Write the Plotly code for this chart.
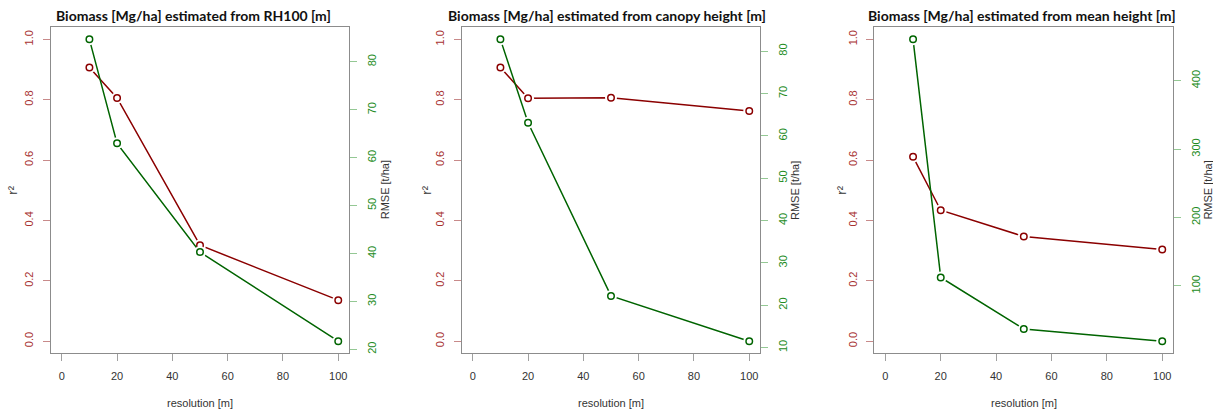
import plotly.graph_objects as go

# ---- data ----
resolution = [10, 20, 50, 100]

titles = [
    "Biomass [Mg/ha] estimated from RH100 [m]",
    "Biomass [Mg/ha] estimated from canopy height [m]",
    "Biomass [Mg/ha] estimated from mean height [m]",
]
r2_rh100 = [0.907, 0.806, 0.318, 0.136]
rmse_rh100 = [84.7, 63.0, 40.3, 21.7]
r2_canopy = [0.907, 0.805, 0.807, 0.763]
rmse_canopy = [82.8, 63.1, 22.2, 11.5]
r2_mean = [0.611, 0.434, 0.347, 0.304]
rmse_mean = [460.5, 112.2, 37.0, 19.0]
rmse_dticks = [10, 10, 100]

r2_sets = [r2_rh100, r2_canopy, r2_mean]
rmse_sets = [rmse_rh100, rmse_canopy, rmse_mean]

# ---- styling / layout ----
W, H = 1213, 411
RED = "#8b0000"
GREEN = "#006400"
RED_LBL = "#a83232"
GREEN_LBL = "#228b22"
RED_TICK = "#c88a8a"
GREEN_TICK = "#94c894"
BOX = "#8c8c8c"
TXT = "#333333"
SANS = "Liberation Sans, Arial, sans-serif"

box_px = [(50.7, 349.3), (461.7, 760.3), (874.3, 1173.3)]
title_cx = [193.3, 607.0, 1022.0]
r2_lbl_x = [11.7, 425.7, 840.7]
rmse_lbl_x = [385.0, 795.7, 1208.3]
top_px, bot_px = 27.3, 353.3
ydom = [1 - bot_px / H, 1 - top_px / H]

fig = go.Figure()
layout = dict(
    width=W, height=H,
    margin=dict(l=0, r=0, t=0, b=0),
    paper_bgcolor="white", plot_bgcolor="white",
    showlegend=False,
    font=dict(family=SANS, size=11, color=TXT),
)
annotations = []

for i in range(3):
    xa = f"x{i+1}" if i else "x"
    yl_n = 2 * i + 1
    yr_n = 2 * i + 2
    yl = f"y{yl_n}" if yl_n > 1 else "y"
    yr = f"y{yr_n}"
    r2 = r2_sets[i]
    rm = rmse_sets[i]
    lo, hi = min(rm), max(rm)
    pad = 0.04 * (hi - lo)

    # red r2 series
    fig.add_trace(go.Scatter(x=resolution, y=r2, xaxis=xa, yaxis=yl, mode="lines",
                             line=dict(color=RED, width=1.5), hoverinfo="skip"))
    # green RMSE series on right axis
    fig.add_trace(go.Scatter(x=resolution, y=rm, xaxis=xa, yaxis=yr, mode="lines",
                             line=dict(color=GREEN, width=1.5), hoverinfo="skip"))
    # gaps around points (type "b" look)
    fig.add_trace(go.Scatter(x=resolution, y=r2, xaxis=xa, yaxis=yl, mode="markers",
                             marker=dict(symbol="circle", size=12, color="white", line=dict(width=0)),
                             hoverinfo="skip"))
    fig.add_trace(go.Scatter(x=resolution, y=rm, xaxis=xa, yaxis=yr, mode="markers",
                             marker=dict(symbol="circle", size=12, color="white", line=dict(width=0)),
                             hoverinfo="skip"))
    fig.add_trace(go.Scatter(x=resolution, y=r2, xaxis=xa, yaxis=yl, mode="markers",
                             marker=dict(symbol="circle-open", size=6.5, color=RED, line=dict(width=1.5)),
                             hoverinfo="skip"))
    fig.add_trace(go.Scatter(x=resolution, y=rm, xaxis=xa, yaxis=yr, mode="markers",
                             marker=dict(symbol="circle-open", size=6.5, color=GREEN, line=dict(width=1.5)),
                             hoverinfo="skip"))

    x0, x1 = box_px[i]
    xkey = f"xaxis{i+1}" if i else "xaxis"
    layout[xkey] = dict(
        domain=[x0 / W, x1 / W], anchor=yl, range=[-4, 104],
        dtick=20, tick0=0, ticks="outside", ticklen=7, tickcolor="#a0a0a0",
        showline=True, linecolor=BOX, linewidth=1, mirror=True,
        showgrid=False, zeroline=False, ticklabelstandoff=5,
        tickfont=dict(family=SANS, size=11, color=TXT),
    )
    ylkey = f"yaxis{yl_n}" if yl_n > 1 else "yaxis"
    layout[ylkey] = dict(
        domain=ydom, anchor=xa, range=[-0.04, 1.04], dtick=0.2, tick0=0,
        tickformat=".1f", ticks="outside", ticklen=7, tickcolor=RED_TICK,
        tickangle=-90, showline=True, linecolor=BOX, linewidth=1, mirror=True,
        showgrid=False, zeroline=False, ticklabelstandoff=5,
        tickfont=dict(family=SANS, size=11, color=RED_LBL),
    )
    layout[f"yaxis{yr_n}"] = dict(
        domain=ydom, anchor=xa, overlaying=yl, side="right",
        range=[lo - pad, hi + pad], dtick=rmse_dticks[i], tick0=0,
        ticks="outside", ticklen=7, tickcolor=GREEN_TICK, tickangle=-90,
        showline=False, showgrid=False, zeroline=False, ticklabelstandoff=5,
        tickfont=dict(family=SANS, size=11, color=GREEN_LBL),
    )

    annotations.append(dict(text=f"<b>{titles[i]}</b>", x=title_cx[i] / W, y=1 - 16 / H,
                            xref="paper", yref="paper", showarrow=False,
                            xanchor="center", yanchor="middle",
                            font=dict(family="Lato, sans-serif", size=14, color="#111111")))
    annotations.append(dict(text="resolution [m]", x=(x0 + x1) / 2 / W, y=1 - 402.7 / H,
                            xref="paper", yref="paper", showarrow=False,
                            xanchor="center", yanchor="middle",
                            font=dict(family=SANS, size=11, color=TXT)))
    annotations.append(dict(text="r²", x=r2_lbl_x[i] / W, y=1 - 190 / H,
                            xref="paper", yref="paper", showarrow=False, textangle=-90,
                            xanchor="center", yanchor="middle",
                            font=dict(family=SANS, size=13, color=TXT)))
    annotations.append(dict(text="RMSE [t/ha]", x=rmse_lbl_x[i] / W, y=1 - 190.3 / H,
                            xref="paper", yref="paper", showarrow=False, textangle=-90,
                            xanchor="center", yanchor="middle",
                            font=dict(family=SANS, size=11, color=TXT)))

layout["annotations"] = annotations
fig.update_layout(**layout)
fig.write_html("out.html")
